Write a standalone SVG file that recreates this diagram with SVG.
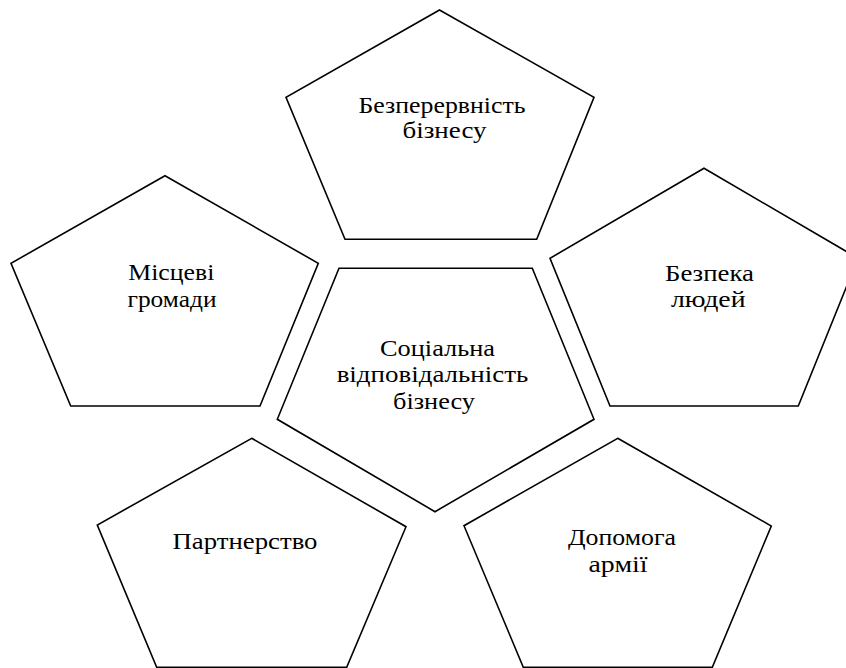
<svg xmlns="http://www.w3.org/2000/svg" width="846" height="668" viewBox="0 0 846 668">
<style>
.p{fill:#fff;stroke:#000;stroke-width:1.6;stroke-linejoin:miter}
.t{font-family:'Liberation Serif','Times New Roman',serif;font-size:23px;fill:#000;text-anchor:middle}
</style>
<rect width="846" height="668" fill="#fff"/>
<g id="n-top">
<polygon class="p" points="439.5,10 594,97.3 536.7,239.3 345,239.3 286,97.3"/>
<text class="t" x="442" y="112.7" textLength="167" lengthAdjust="spacingAndGlyphs">Безперервність</text>
<text class="t" x="444.5" y="138.3" textLength="84" lengthAdjust="spacingAndGlyphs">бізнесу</text>
</g>
<g id="n-left">
<polygon class="p" points="165,175.7 318.3,263.3 260,406 70.7,406 11,263.3"/>
<text class="t" x="171.3" y="280.3" textLength="86" lengthAdjust="spacingAndGlyphs">Місцеві</text>
<text class="t" x="172" y="306.7" textLength="89" lengthAdjust="spacingAndGlyphs">громади</text>
</g>
<g id="n-right">
<polygon class="p" points="704,168.3 858,258.3 798.3,406 610,406 550,258.3"/>
<text class="t" x="709.5" y="281" textLength="89" lengthAdjust="spacingAndGlyphs">Безпека</text>
<text class="t" x="708.3" y="307.3" textLength="74.7" lengthAdjust="spacingAndGlyphs">людей</text>
</g>
<g id="n-center">
<polygon class="p" points="339,268.3 532.3,268.3 594,419.3 435,511.7 277.3,419.3"/>
<text class="t" x="437.5" y="355.7" textLength="115" lengthAdjust="spacingAndGlyphs">Соціальна</text>
<text class="t" x="432.5" y="381.7" textLength="191.7" lengthAdjust="spacingAndGlyphs">відповідальність</text>
<text class="t" x="434" y="409" textLength="82" lengthAdjust="spacingAndGlyphs">бізнесу</text>
</g>
<g id="n-bottom-left">
<polygon class="p" points="251.7,438.3 406,526.7 346.7,667.3 156.7,667.3 97.3,525"/>
<text class="t" x="245" y="549" textLength="145" lengthAdjust="spacingAndGlyphs">Партнерство</text>
</g>
<g id="n-bottom-right">
<polygon class="p" points="617.7,438.3 771.3,526 712.3,667.3 523.3,667.3 464,525.7"/>
<text class="t" x="622" y="545" textLength="108" lengthAdjust="spacingAndGlyphs">Допомога</text>
<text class="t" x="618" y="571.5" textLength="59" lengthAdjust="spacingAndGlyphs">армії</text>
</g>
<g id="connectors"/>
</svg>
